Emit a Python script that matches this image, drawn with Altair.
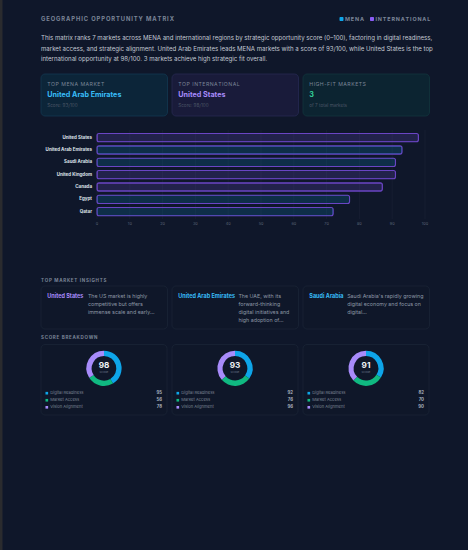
import altair as alt
import pandas as pd

# ---- data -------------------------------------------------------------
markets = ["United States", "United Arab Emirates", "Saudi Arabia",
           "United Kingdom", "Canada", "Egypt", "Qatar"]
regions = ["International", "MENA", "MENA", "International",
           "International", "MENA", "MENA"]
scores = [98, 93, 91, 91, 87, 77, 72]
tick_values = [0, 10, 20, 30, 40, 50, 60, 70, 80, 90, 100]

components = ["Digital Readiness", "Market Access", "Vision Alignment"]
breakdown_markets = ["United States", "United Arab Emirates", "Saudi Arabia"]
breakdown_scores = [98, 93, 91]
digital_readiness = [95, 92, 82]
market_access = [56, 76, 70]
vision_alignment = [78, 96, 90]

insight_markets = ["United States", "United Arab Emirates", "Saudi Arabia"]
insight_texts = [
    ["The US market is highly", "competitive but offers", "immense scale and early..."],
    ["The UAE, with its", "forward-thinking", "digital initiatives and", "high adoption of..."],
    ["Saudi Arabia's rapidly growing", "digital economy and focus on", "digital..."],
]
high_fit_count = 3

# ---- palette ----------------------------------------------------------
BG = "#0f172a"
FONT = "Inter"
BLUE = "#0ea5e9"
SKY = "#38bdf8"
VIOLET = "#8b5cf6"
LAVENDER = "#a78bfa"
GREEN = "#10b981"
MUTED = "#7b8597"
DIM = "#4b5566"
TEXT = "#c3c9d3"

W, H = 468, 550
blank = alt.Data(values=[{}])


def spaced(s, gap="\u2009"):
    return gap.join(list(s))


def box(x0, x1, y0, y1, fill, stroke, radius=4, width=0.8):
    return alt.Chart(blank).mark_rect(
        fill=fill, stroke=stroke, strokeWidth=width, cornerRadius=radius
    ).encode(x=alt.value(x0), x2=alt.value(x1), y=alt.value(y0), y2=alt.value(y1))


def label(txt, x, y, size, color, weight="normal", align="left"):
    return alt.Chart(blank).mark_text(
        text=txt, fontSize=size, color=color, fontWeight=weight,
        align=align, baseline="middle", font=FONT,
    ).encode(x=alt.value(x), y=alt.value(y))


layers = []

# left edge strip
layers.append(box(0, 2.5, 0, H, "#2a2b2e", "#2a2b2e", radius=0, width=0))

# ---- header -----------------------------------------------------------
layers.append(label(spaced("GEOGRAPHIC OPPORTUNITY MATRIX"), 41, 19, 5.8, MUTED, "bold"))
layers.append(box(339.5, 343.5, 17, 21, BLUE, BLUE, radius=1, width=0))
layers.append(label(spaced("MENA"), 345, 19, 5.4, MUTED, "bold"))
layers.append(box(370, 374, 17, 21, VIOLET, VIOLET, radius=1, width=0))
layers.append(label(spaced("INTERNATIONAL"), 375.5, 19, 5.4, MUTED, "bold"))

top_mena = max([(s, m) for m, s, r in zip(markets, scores, regions) if r == "MENA"])
top_intl = max([(s, m) for m, s, r in zip(markets, scores, regions) if r == "International"])
description = [
    f"This matrix ranks {len(markets)} markets across MENA and international regions by strategic "
    "opportunity score (0\u2013100), factoring in digital readiness,",
    f"market access, and strategic alignment. {top_mena[1]} leads MENA markets with a score of "
    f"{top_mena[0]}/100, while {top_intl[1]} is the top",
    f"international opportunity at {top_intl[0]}/100. {high_fit_count} markets achieve high "
    "strategic fit overall.",
]
for i, line in enumerate(description):
    layers.append(label(line, 41, 38.3 + i * 10.2, 6.1, TEXT))

# ---- KPI cards --------------------------------------------------------
cards = [
    (41, 167.5, "#0c2539", "#133750", "TOP MENA MARKET", top_mena[1], SKY, f"Score: {top_mena[0]}/100"),
    (172, 298.5, "#191b3a", "#262a52", "TOP INTERNATIONAL", top_intl[1], LAVENDER, f"Score: {top_intl[0]}/100"),
    (303, 429.5, "#0c2431", "#12353c", "HIGH-FIT MARKETS", str(high_fit_count), "#34d399", f"of {len(markets)} total markets"),
]
for x0, x1, fill, stroke, head, value, vcolor, sub in cards:
    layers.append(box(x0, x1, 74, 116, fill, stroke, radius=4))
    layers.append(label(spaced(head, "\u200a"), x0 + 6.3, 84.3, 5.2, MUTED))
    layers.append(label(value, x0 + 6.3, 95.3, 7.2, vcolor, "bold"))
    layers.append(label(sub, x0 + 6.3, 105.8, 4.6, DIM))

# ---- ranked bar chart -------------------------------------------------
bar_df = pd.DataFrame({"market": markets, "region": regions, "score": scores})
tick_df = pd.DataFrame({"tick": tick_values})
x_scale = alt.Scale(domain=[0, 100], range=[97, 425])
y_scale = alt.Scale(domain=markets, range=[131.5, 217.8], paddingInner=0.33, paddingOuter=0.165)

grid = alt.Chart(tick_df).mark_rule(stroke="#1b2437", strokeWidth=0.6).encode(
    x=alt.X("tick:Q", scale=x_scale, axis=None),
    y=alt.value(130), y2=alt.value(219),
)
tick_labels = alt.Chart(tick_df).mark_text(
    fontSize=3.8, color="#5b6577", font=FONT, baseline="middle"
).encode(
    x=alt.X("tick:Q", scale=x_scale, axis=None),
    y=alt.value(224), text="tick:Q",
)
is_mena = "datum.region == 'MENA'"
bars = alt.Chart(bar_df).mark_bar(cornerRadius=2, strokeWidth=1.1, fillOpacity=0.16).encode(
    x=alt.X("score:Q", scale=x_scale, axis=None),
    y=alt.Y("market:N", scale=y_scale, axis=None),
    fill=alt.condition(is_mena, alt.value(BLUE), alt.value(VIOLET)),
    stroke=alt.condition(is_mena, alt.value("#0b78ad"), alt.value("#6a45c4")),
)
market_labels = alt.Chart(bar_df).mark_text(
    align="right", baseline="middle", fontSize=4.5, fontWeight="bold",
    color="#dfe3eb", font=FONT,
).encode(
    x=alt.value(92),
    y=alt.Y("market:N", scale=y_scale, axis=None),
    text="market:N",
)
layers += [grid, tick_labels, bars, market_labels]

# ---- insights ---------------------------------------------------------
layers.append(label(spaced("TOP MARKET INSIGHTS"), 41, 280.7, 4.5, MUTED, "bold"))
insight_colors = {m: (SKY if r == "MENA" else LAVENDER) for m, r in zip(markets, regions)}
for i, (name, lines) in enumerate(zip(insight_markets, insight_texts)):
    x0 = 41 + i * 131
    layers.append(box(x0, x0 + 126.5, 286, 329, "#0f1729", "#1b2436", radius=4))
    layers.append(label(name, x0 + 6.3, 295.7, 5.5, insight_colors[name], "bold"))
    text_x = x0 + 6.3 + len(name) * 2.78 + 4.5
    for j, line in enumerate(lines):
        layers.append(label(line, text_x, 295.7 + j * 8.2, 5.3, "#8e97a6"))

# ---- score breakdown donuts ------------------------------------------
layers.append(label(spaced("SCORE BREAKDOWN"), 41, 337.7, 4.5, MUTED, "bold"))
color_scale = alt.Scale(domain=components, range=[BLUE, GREEN, LAVENDER])
row_scale = alt.Scale(type="point", domain=components, range=[393.2, 407.3], padding=0)
for i, m in enumerate(breakdown_markets):
    x0 = 41 + i * 131
    cx = x0 + 63
    layers.append(box(x0, x0 + 126, 344.5, 415, "#0f1729", "#1b2436", radius=4))
    df = pd.DataFrame({
        "component": components,
        "k": [0, 1, 2],
        "value": [digital_readiness[i], market_access[i], vision_alignment[i]],
    })
    donut = alt.Chart(df).mark_arc(innerRadius=12.3, outerRadius=17.6).encode(
        theta=alt.Theta("value:Q", stack="normalize"),
        order=alt.Order("k:Q"),
        color=alt.Color("component:N", scale=color_scale, legend=None),
        x=alt.value(cx), y=alt.value(368.3),
    )
    layers.append(donut)
    layers.append(label(str(breakdown_scores[i]), cx, 365.8, 8.2, "#f1f5f9", "bold", align="center"))
    layers.append(label("SCORE", cx, 371.6, 2.6, "#6b7588", align="center"))
    swatch = alt.Chart(df).mark_square(size=7, opacity=1).encode(
        x=alt.value(x0 + 5.8),
        y=alt.Y("component:N", scale=row_scale, axis=None),
        color=alt.Color("component:N", scale=color_scale, legend=None),
    )
    names = alt.Chart(df).mark_text(
        align="left", baseline="middle", fontSize=4.1, color="#7d8696", font=FONT
    ).encode(
        x=alt.value(x0 + 9.3),
        y=alt.Y("component:N", scale=row_scale, axis=None),
        text="component:N",
    )
    vals = alt.Chart(df).mark_text(
        align="right", baseline="middle", fontSize=4.3, fontWeight="bold",
        color="#aab2bf", font=FONT,
    ).encode(
        x=alt.value(x0 + 121),
        y=alt.Y("component:N", scale=row_scale, axis=None),
        text="value:Q",
    )
    layers += [swatch, names, vals]

chart = alt.layer(*layers).resolve_scale(y="independent").properties(
    width=W, height=H, padding=0, autosize="none", background=BG,
).configure_view(strokeWidth=0, fill=BG)

chart.save("out.html", embed_options={"renderer": "svg", "actions": False})
